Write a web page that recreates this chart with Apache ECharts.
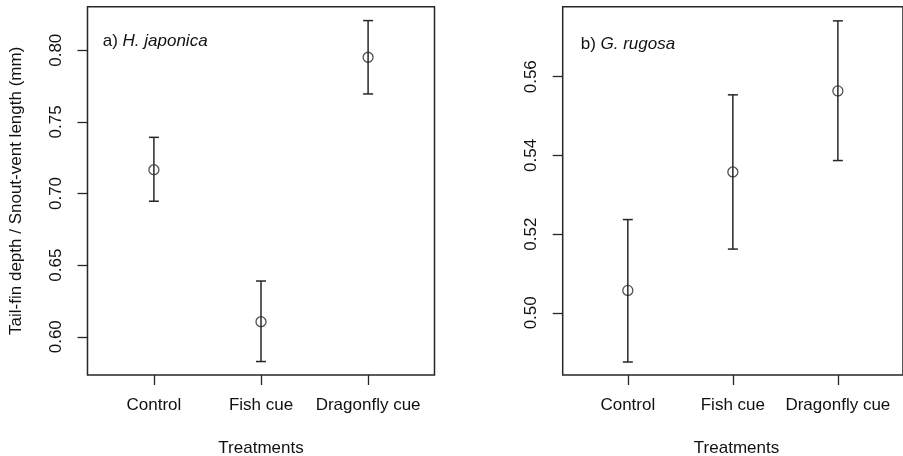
<!DOCTYPE html>
<html>
<head>
<meta charset="utf-8">
<script src="https://cdn.jsdelivr.net/npm/echarts@6/dist/echarts.min.js"></script>
<style>
  html, body { margin: 0; padding: 0; background: #fff; }
  #chart { width: 903px; height: 456px; }
</style>
</head>
<body>
<div id="chart"></div>
<script>
// treatments on the x axis (positions 1, 2, 3)
const categories = ['Control', 'Fish cue', 'Dragonfly cue']
const catPos = [1, 2, 3]

// a) H. japonica
const meanA = [0.7166, 0.6105, 0.7951]
const lowA = [0.6946, 0.5827, 0.7695]
const highA = [0.7392, 0.6389, 0.8207]
const ticksA = [0.60, 0.65, 0.70, 0.75, 0.80]

// b) G. rugosa
const meanB = [0.5057, 0.5358, 0.5564]
const lowB = [0.4875, 0.5162, 0.5387]
const highB = [0.5237, 0.5554, 0.5742]
const ticksB = [0.50, 0.52, 0.54, 0.56]

const ink = '#262626'
const txt = '#111'
const font = 'Liberation Sans, Arial, Helvetica, sans-serif'

let myChart = echarts.init(document.getElementById('chart'))

function xAxisOf(idx) {
    return {
        gridIndex: idx, type: 'value', min: 0.38, max: 3.62,
        axisLine: { show: false },
        splitLine: { show: false },
        axisTick: { show: true, length: 10, inside: false, customValues: catPos, lineStyle: { color: ink, width: 1.3 } },
        axisLabel: {
            customValues: catPos, margin: 22, color: txt, fontSize: 17, fontFamily: font,
            formatter: function (v) { return categories[Math.round(v) - 1] || '' }
        }
    }
}

function yAxisOf(idx, min, max, ticks, digits) {
    return {
        gridIndex: idx, type: 'value', min: min, max: max,
        axisLine: { show: false },
        splitLine: { show: false },
        axisTick: { show: true, length: 10, inside: false, customValues: ticks, lineStyle: { color: ink, width: 1.3 } },
        axisLabel: {
            customValues: ticks, rotate: 90, margin: 23, color: txt, fontSize: 17, fontFamily: font,
            formatter: function (v) { return v.toFixed(digits) }
        }
    }
}

function errorBars(idx, low, high) {
    return {
        type: 'custom', xAxisIndex: idx, yAxisIndex: idx,
        data: catPos.map((x, i) => [x, low[i], high[i]]),
        renderItem: function (params, api) {
            let lo = api.coord([api.value(0), api.value(1)])
            let hi = api.coord([api.value(0), api.value(2)])
            let half = 5
            let st = { stroke: ink, lineWidth: 1.5 }
            return {
                type: 'group',
                children: [
                    { type: 'line', shape: { x1: lo[0], y1: lo[1], x2: hi[0], y2: hi[1] }, style: st },
                    { type: 'line', shape: { x1: lo[0] - half, y1: lo[1], x2: lo[0] + half, y2: lo[1] }, style: st },
                    { type: 'line', shape: { x1: hi[0] - half, y1: hi[1], x2: hi[0] + half, y2: hi[1] }, style: st }
                ]
            }
        },
        z: 2
    }
}

function points(idx, mean) {
    return {
        type: 'scatter', xAxisIndex: idx, yAxisIndex: idx,
        data: catPos.map((x, i) => [x, mean[i]]),
        symbol: 'circle', symbolSize: 10,
        itemStyle: { color: 'rgba(0,0,0,0)', borderColor: ink, borderWidth: 1.3 },
        z: 3
    }
}

let option = {
    animation: false,
    backgroundColor: '#fff',
    grid: [
        { left: 87.5, top: 6.7, width: 347, height: 368.3, show: true, borderColor: ink, borderWidth: 1.5, backgroundColor: 'transparent' },
        { left: 562.7, top: 6.7, width: 347, height: 368.3, show: true, borderColor: ink, borderWidth: 1.5, backgroundColor: 'transparent' }
    ],
    xAxis: [xAxisOf(0), xAxisOf(1)],
    yAxis: [
        yAxisOf(0, 0.5733, 0.8304, ticksA, 2),
        yAxisOf(1, 0.4842, 0.5778, ticksB, 2)
    ],
    graphic: [
        {
            type: 'text', x: 16, y: 190.8, rotation: Math.PI / 2,
            style: { text: 'Tail-fin depth / Snout-vent length (mm)', fill: txt, font: '17px ' + font, align: 'center', verticalAlign: 'middle' }
        },
        {
            type: 'text', x: 261, y: 448,
            style: { text: 'Treatments', fill: txt, font: '17px ' + font, align: 'center', verticalAlign: 'middle' }
        },
        {
            type: 'text', x: 736.5, y: 448,
            style: { text: 'Treatments', fill: txt, font: '17px ' + font, align: 'center', verticalAlign: 'middle' }
        },
        {
            type: 'text', x: 102.7, y: 41.7,
            style: {
                text: '{n|a) }{i|H. japonica}', verticalAlign: 'middle',
                rich: {
                    n: { fill: txt, fontSize: 17, fontFamily: font },
                    i: { fill: txt, fontSize: 17, fontFamily: font, fontStyle: 'italic' }
                }
            }
        },
        {
            type: 'text', x: 580.7, y: 44.3,
            style: {
                text: '{n|b) }{i|G. rugosa}', verticalAlign: 'middle',
                rich: {
                    n: { fill: txt, fontSize: 17, fontFamily: font },
                    i: { fill: txt, fontSize: 17, fontFamily: font, fontStyle: 'italic' }
                }
            }
        }
    ],
    series: [
        errorBars(0, lowA, highA), points(0, meanA),
        errorBars(1, lowB, highB), points(1, meanB)
    ]
}
myChart.setOption(option)
window.addEventListener('resize', function () { myChart.resize() })
</script>
</body>
</html>
